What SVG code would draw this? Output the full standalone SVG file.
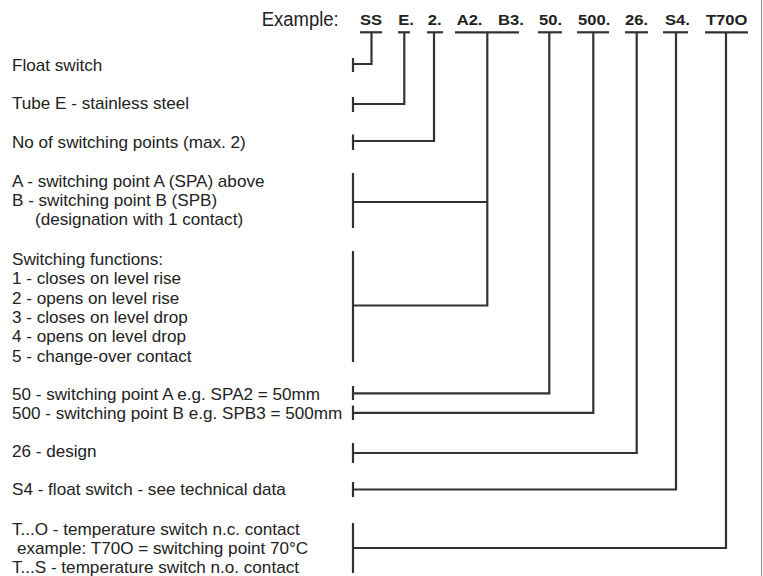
<svg xmlns="http://www.w3.org/2000/svg" width="763" height="576" viewBox="0 0 763 576">
<style>
text{font-family:"Liberation Sans",Arial,sans-serif;fill:#222}
.d{font-size:16px}
.c{font-size:15.5px;font-weight:bold}
.t{font-size:20px}
.ln{fill:none;stroke:#333;stroke-width:2.2;stroke-linejoin:miter;stroke-linecap:butt}
.bar{stroke:#333;stroke-width:2.2}
</style>
<rect width="763" height="576" fill="#fff"/>
<line x1="761.5" y1="0" x2="761.5" y2="576" stroke="#8a8a8a" stroke-width="1"/>
<g id="title"><text class="t" x="261.7" y="25.5" textLength="77" lengthAdjust="spacingAndGlyphs">Example:</text></g>
<g id="codes" transform="scale(1.07 1)">
<g id="code-ss"><text class="c" x="336.4" y="25.5">SS</text></g>
<g id="code-e"><text class="c" x="372.2" y="25.5">E.</text></g>
<g id="code-2"><text class="c" x="399.7" y="25.5">2.</text></g>
<g id="code-a2"><text class="c" x="426.8" y="25.5">A2.</text></g>
<g id="code-b3"><text class="c" x="465.4" y="25.5">B3.</text></g>
<g id="code-50"><text class="c" x="503.7" y="25.5">50.</text></g>
<g id="code-500"><text class="c" x="540.2" y="25.5">500.</text></g>
<g id="code-26"><text class="c" x="584.1" y="25.5">26.</text></g>
<g id="code-s4"><text class="c" x="621.5" y="25.5">S4.</text></g>
<g id="code-t70o"><text class="c" x="659.8" y="25.5">T70O</text></g>
</g>
<g id="descriptions" transform="scale(1.07 1)">
<g id="d-float"><text class="d" x="11.2" y="70.7">Float switch</text></g>
<g id="d-tube"><text class="d" x="11.2" y="109.5">Tube E - stainless steel</text></g>
<g id="d-points"><text class="d" x="11.2" y="147.7">No of switching points (max. 2)</text></g>
<g id="d-ab">
<text class="d" x="11.2" y="186.7">A - switching point A (SPA) above</text>
<text class="d" x="11.2" y="206">B - switching point B (SPB)</text>
<text class="d" x="32.7" y="225.3">(designation with 1 contact)</text>
</g>
<g id="d-functions">
<text class="d" x="11.2" y="265">Switching functions:</text>
<text class="d" x="11.2" y="284.5">1 - closes on level rise</text>
<text class="d" x="11.2" y="303.8">2 - opens on level rise</text>
<text class="d" x="11.2" y="323.1">3 - closes on level drop</text>
<text class="d" x="11.2" y="342.4">4 - opens on level drop</text>
<text class="d" x="11.2" y="361.7">5 - change-over contact</text>
</g>
<g id="d-50"><text class="d" x="11.2" y="400">50 - switching point A e.g. SPA2 = 50mm</text></g>
<g id="d-500"><text class="d" x="11.2" y="419">500 - switching point B e.g. SPB3 = 500mm</text></g>
<g id="d-26"><text class="d" x="11.2" y="456.7">26 - design</text></g>
<g id="d-s4"><text class="d" x="11.2" y="495">S4 - float switch - see technical data</text></g>
<g id="d-temp">
<text class="d" x="11.2" y="535.5">T...O - temperature switch n.c. contact</text>
<text class="d" x="15.9" y="554.5">example: T70O = switching point 70°C</text>
<text class="d" x="11.2" y="573.5">T...S - temperature switch n.o. contact</text>
</g>
</g>
<g id="connectors">
<line class="bar" x1="360" y1="32.3" x2="382" y2="32.3"/>
<line class="bar" x1="398" y1="32.3" x2="410" y2="32.3"/>
<line class="bar" x1="427" y1="32.3" x2="443" y2="32.3"/>
<line class="bar" x1="455" y1="32.3" x2="519" y2="32.3"/>
<line class="bar" x1="538" y1="32.3" x2="562" y2="32.3"/>
<line class="bar" x1="577" y1="32.3" x2="609" y2="32.3"/>
<line class="bar" x1="625" y1="32.3" x2="648" y2="32.3"/>
<line class="bar" x1="663" y1="32.3" x2="688" y2="32.3"/>
<line class="bar" x1="705" y1="32.3" x2="748" y2="32.3"/>
<polyline class="ln" points="371.5,32.3 371.5,64 353,64"/>
<polyline class="ln" points="404.3,32.3 404.3,104 353,104"/>
<polyline class="ln" points="434,32.3 434,141 353,141"/>
<polyline class="ln" points="487.3,32.3 487.3,305.5 353,305.5"/>
<line class="bar" x1="353" y1="202" x2="487.3" y2="202"/>
<polyline class="ln" points="549.3,32.3 549.3,393.3 353,393.3"/>
<polyline class="ln" points="593.3,32.3 593.3,412.8 353,412.8"/>
<polyline class="ln" points="636.7,32.3 636.7,453 353,453"/>
<polyline class="ln" points="676,32.3 676,489.5 353,489.5"/>
<polyline class="ln" points="726,32.3 726,548 353,548"/>
<line class="bar" x1="353" y1="58" x2="353" y2="72"/>
<line class="bar" x1="353" y1="97" x2="353" y2="112"/>
<line class="bar" x1="353" y1="134.5" x2="353" y2="150"/>
<line class="bar" x1="353" y1="173" x2="353" y2="228"/>
<line class="bar" x1="353" y1="251" x2="353" y2="362"/>
<line class="bar" x1="353" y1="386" x2="353" y2="400"/>
<line class="bar" x1="353" y1="405.5" x2="353" y2="420"/>
<line class="bar" x1="353" y1="443" x2="353" y2="463"/>
<line class="bar" x1="353" y1="482" x2="353" y2="497"/>
<line class="bar" x1="353" y1="523" x2="353" y2="573"/>
</g>
</svg>
